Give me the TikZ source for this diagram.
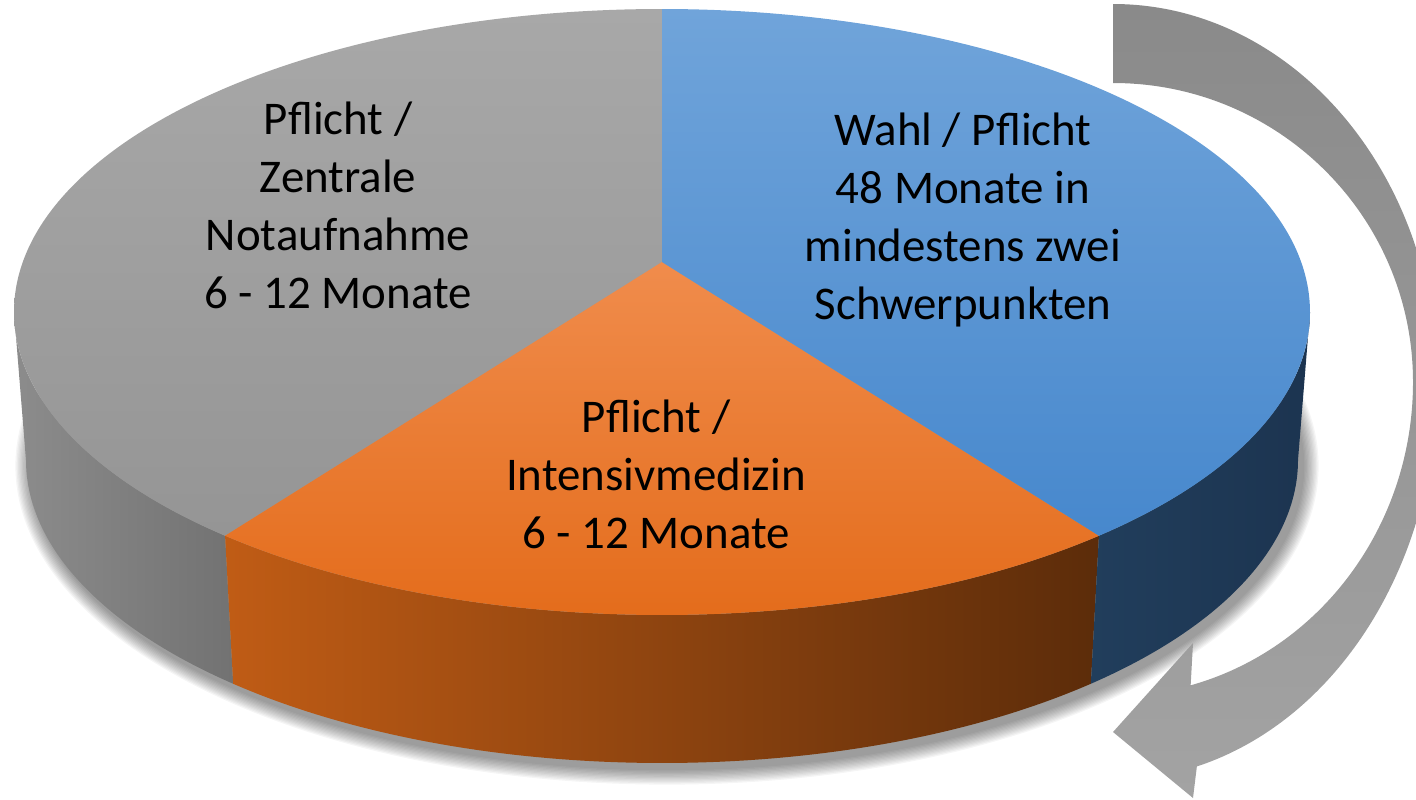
\documentclass[tikz,border=0pt]{standalone}
\usepackage{fontspec}
\setmainfont{Carlito}
\usepackage{tikz}
\usetikzlibrary{calc}

\definecolor{greytop}{HTML}{A8A8A8}
\definecolor{greytopdark}{HTML}{959595}
\definecolor{greyside}{HTML}{8C8C8C}
\definecolor{greysidedark}{HTML}{727272}
\definecolor{bluetop}{HTML}{70A4DA}
\definecolor{bluetopdark}{HTML}{4788CD}
\definecolor{blueside}{HTML}{213E5C}
\definecolor{bluesidedark}{HTML}{1C3450}
\definecolor{orangetop}{HTML}{F08C4C}
\definecolor{orangetopdark}{HTML}{E36A18}
\definecolor{orangeside}{HTML}{C05C15}
\definecolor{orangesidedark}{HTML}{5C2C0A}
\definecolor{arrowtop}{HTML}{8A8A8A}
\definecolor{arrowbot}{HTML}{A3A3A3}

\tikzset{
	slicetext/.style={align=center, inner sep=0pt, text=black, font=\fontsize{26.7pt}{33pt}\selectfont},
}

\begin{document}
\begin{tikzpicture}[x=0.02cm, y=0.02cm]
	\path[use as bounding box, clip] (0,0) rectangle (1416,-799);

	\coordinate (apex) at (662,-262);
	\coordinate (tc) at (662,-312);
	\coordinate (bc) at (662,-460);
	\coordinate (rc) at (1113,-382);
	\coordinate (headtop) at (1193,-643);
	\coordinate (headtip) at (1113,-732);
	\coordinate (headbot) at (1193,-798);

	\foreach \i in {1,...,12}
		\fill[black, opacity=0.04] ([shift={(5,-6)}]bc) ellipse [x radius={636+1.3*\i}, y radius={303+1.3*\i}];

	\path[left color=greyside, right color=greysidedark] ([shift={(180:648 and 303)}]tc) arc[start angle=180, end angle=227.6, x radius=648, y radius=303] -- ([shift={(227.6:636 and 303)}]bc) arc[start angle=227.6, end angle=180, x radius=636, y radius=303] -- cycle;
	\path[left color=orangeside, right color=orangesidedark] ([shift={(227.6:648 and 303)}]tc) arc[start angle=227.6, end angle=312.4, x radius=648, y radius=303] -- ([shift={(312.4:636 and 303)}]bc) arc[start angle=312.4, end angle=227.6, x radius=636, y radius=303] -- cycle;
	\path[left color=blueside, right color=bluesidedark] ([shift={(312.4:648 and 303)}]tc) arc[start angle=312.4, end angle=360, x radius=648, y radius=303] -- ([shift={(0:636 and 303)}]bc) arc[start angle=360, end angle=312.4, x radius=636, y radius=303] -- cycle;

	\path[top color=greytop, bottom color=greytopdark] (apex) -- ([shift={(90:648 and 303)}]tc) arc[start angle=90, end angle=227.6, x radius=648, y radius=303] -- cycle;
	\path[top color=orangetop, bottom color=orangetopdark] (apex) -- ([shift={(227.6:648 and 303)}]tc) arc[start angle=227.6, end angle=312.4, x radius=648, y radius=303] -- cycle;
	\path[top color=bluetop, bottom color=bluetopdark] (apex) -- ([shift={(312.4:648 and 303)}]tc) arc[start angle=312.4, end angle=450, x radius=648, y radius=303] -- cycle;

	\path[top color=arrowtop, bottom color=arrowbot] ([shift={(90:324 and 378)}]rc) arc[start angle=90, end angle=0, x radius=324, y radius=378] arc[start angle=0, end angle=-75, x radius=324, y radius=398] -- (headbot) -- (headtip) -- (headtop) -- ([shift={(-75:300 and 314)}]rc) arc[start angle=-75, end angle=0, x radius=300, y radius=314] arc[start angle=0, end angle=90, x radius=300, y radius=299] -- cycle;

	\node[slicetext] (grey) at (338,-205) {Pflicht /\\Zentrale\\Notaufnahme\\6 - 12 Monate};
	\node[slicetext] (blue) at (963,-220) {Wahl / Pflicht\\48 Monate in\\mindestens zwei\\Schwerpunkten};
	\node[slicetext] (orange) at (656,-474) {Pflicht /\\Intensivmedizin\\6 - 12 Monate};
\end{tikzpicture}
\end{document}
